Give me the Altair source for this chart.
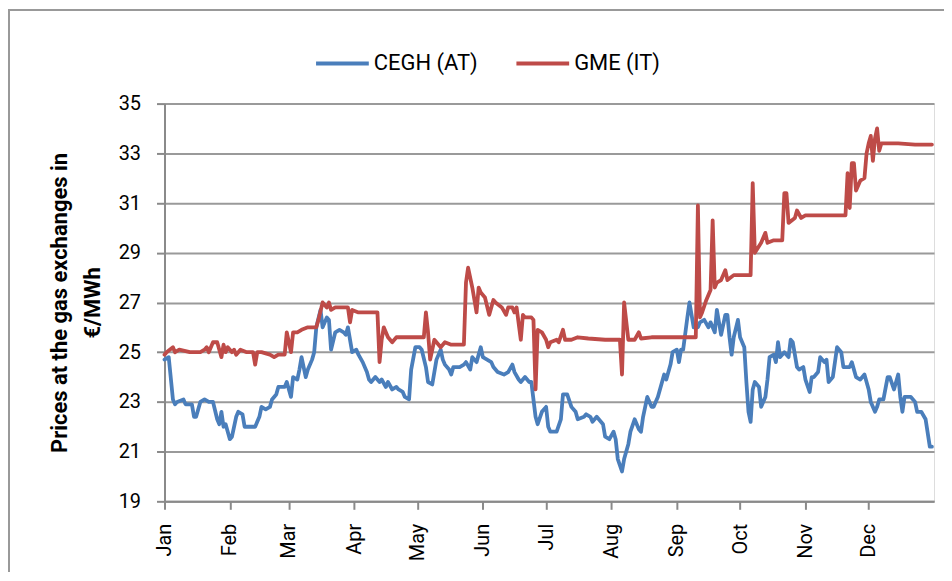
import altair as alt
import pandas as pd

# ---- data (day of year offset in 2013, price in EUR/MWh) ----
cegh_day = [0,2,4,5,6,9,10,13,14,15,17,19,21,23,25,26,27,28,29,31,32,34,35,37,38,40,42,43,45,46,48,50,51,53,54,57,58,60,61,63,64,65,67,68,70,71,72,74,75,77,78,79,81,83,85,86,87,89,91,92,94,96,97,98,100,102,103,105,106,108,110,111,113,114,116,117,119,121,122,124,125,127,129,131,132,133,135,136,137,139,140,142,143,145,146,148,150,151,153,155,156,158,161,163,165,166,168,169,171,173,174,175,176,177,179,181,182,183,186,188,189,191,193,195,196,199,200,202,203,205,207,208,209,211,213,214,215,217,218,220,221,223,225,226,227,229,231,232,234,235,237,238,240,241,243,244,245,246,248,249,251,253,254,256,258,259,261,262,264,266,267,268,269,270,272,273,275,276,277,278,279,280,282,283,285,286,287,289,290,291,292,294,296,297,298,300,301,303,304,306,307,308,310,311,313,314,315,317,319,321,322,325,326,328,330,332,334,335,337,338,339,341,343,344,346,348,349,350,351,354,356,357,359,361,363,364]
cegh_val = [24.7,24.8,23.1,22.9,23.0,23.1,22.9,22.9,22.4,22.4,23.0,23.1,23.0,23.0,22.3,22.1,22.6,22.0,22.1,21.5,21.6,22.4,22.6,22.5,22.0,22.0,22.0,22.0,22.4,22.8,22.7,22.8,23.1,23.3,23.6,23.6,23.8,23.2,24.0,23.9,24.3,24.8,24.0,24.3,24.7,25.0,26.0,26.7,26.0,26.4,26.3,25.1,25.8,25.9,25.8,25.7,26.0,25.0,25.1,24.9,24.6,24.2,23.9,23.8,24.0,23.8,23.9,23.6,23.8,23.5,23.6,23.5,23.4,23.2,23.1,24.3,25.2,25.2,25.1,24.4,23.8,23.7,24.7,25.1,24.7,24.5,24.3,24.1,24.4,24.4,24.4,24.5,24.6,24.3,24.8,24.6,25.2,24.8,24.7,24.6,24.4,24.2,24.1,24.2,24.5,24.2,23.9,23.8,24.0,23.8,23.8,23.1,22.4,22.1,22.6,22.8,22.0,21.8,21.8,22.3,23.3,23.3,22.8,22.6,22.3,22.4,22.5,22.4,22.2,22.4,22.2,22.1,21.6,21.5,21.8,21.5,20.7,20.2,20.7,21.3,21.8,22.3,21.9,21.8,22.4,23.2,22.8,22.8,23.2,23.5,24.1,23.9,24.5,25.0,25.1,24.6,25.1,25.1,26.4,27.0,26.0,26.0,26.2,26.3,26.0,26.2,25.8,26.7,25.7,26.5,26.5,25.6,24.9,25.6,26.3,25.6,25.2,23.8,22.6,22.2,23.5,23.8,23.6,22.8,23.2,23.9,24.8,24.9,24.6,25.4,24.8,25.0,24.8,25.5,25.4,24.4,24.3,24.4,23.9,23.4,24.0,24.0,24.2,24.8,24.6,24.7,23.8,24.0,25.2,25.0,24.4,24.4,24.6,24.0,23.9,24.1,23.5,23.0,22.6,22.8,23.1,23.1,24.0,24.0,23.5,24.1,23.2,22.6,23.2,23.2,23.0,22.6,22.6,22.3,21.2,21.2]

gme_day = [0,1,4,5,7,12,17,19,20,21,23,25,27,28,29,30,32,33,34,36,39,42,43,44,46,50,52,54,57,58,60,61,62,63,65,68,70,72,73,75,77,78,79,81,84,87,88,89,92,96,101,102,103,104,106,108,110,113,116,119,122,123,124,125,126,128,129,131,133,136,139,142,143,144,146,148,149,150,152,154,156,157,160,162,163,165,166,167,169,170,171,174,175,176,177,179,181,182,183,186,187,189,190,193,196,201,209,216,217,218,220,223,225,226,231,237,247,252,253,254,255,257,259,260,261,262,264,266,267,270,273,278,279,280,283,285,286,289,293,294,295,296,299,300,302,304,310,316,323,324,325,326,327,328,330,332,333,334,335,336,337,338,339,340,342,348,356,364]
gme_val = [24.9,25.0,25.2,25.0,25.1,25.0,25.0,25.1,25.2,25.0,25.4,25.4,24.8,25.3,25.0,25.2,25.0,25.1,24.9,25.1,25.0,25.0,24.5,25.0,25.0,24.9,24.8,24.9,24.9,25.8,25.0,25.8,25.8,25.8,25.9,26.0,26.0,26.0,26.3,27.0,26.8,27.0,26.7,26.8,26.8,26.8,26.2,26.7,26.6,26.6,26.6,24.6,25.5,26.0,25.6,25.4,25.6,25.6,25.6,25.6,25.6,25.6,26.6,25.8,24.7,25.5,25.4,25.2,25.4,25.3,25.3,25.3,27.8,28.4,27.6,26.6,27.6,27.4,27.2,26.5,27.1,27.0,26.8,26.5,26.8,26.8,26.6,26.8,25.5,26.5,26.4,26.4,26.3,23.5,25.9,25.8,25.5,25.2,25.4,25.5,25.4,25.9,25.5,25.5,25.6,25.55,25.5,25.5,24.1,27.0,25.5,25.5,25.8,25.55,25.6,25.6,25.6,25.6,30.9,26.4,26.6,27.1,27.5,30.3,27.6,27.8,27.9,28.3,27.9,28.1,28.1,28.1,31.8,29.0,29.4,29.8,29.4,29.5,29.5,31.4,31.4,30.2,30.4,30.7,30.4,30.5,30.5,30.5,30.5,32.2,30.8,32.6,32.6,31.5,31.9,32.0,33.0,33.4,33.7,32.7,33.6,34.0,33.1,33.4,33.4,33.4,33.35,33.35]

series_names = ["CEGH (AT)", "GME (IT)"]
series_colors = ["#4A7EBB", "#BE4B48"]
month_numbers = list(range(1, 13))
y_ticks = [19, 21, 23, 25, 27, 29, 31, 33, 35]

start = pd.Timestamp("2013-01-01")
df = pd.concat([
    pd.DataFrame({"date": start + pd.to_timedelta(cegh_day, unit="D"),
                  "price": cegh_val, "series": series_names[0]}),
    pd.DataFrame({"date": start + pd.to_timedelta(gme_day, unit="D"),
                  "price": gme_val, "series": series_names[1]}),
], ignore_index=True)

FONT = "Roboto"
AXIS_GRAY = "#8a8a8a"

lines = alt.Chart(df).mark_line(strokeWidth=3.8, strokeJoin="round", strokeCap="round").encode(
    x=alt.X("date:T",
            scale=alt.Scale(domain=[alt.DateTime(year=2013, month=1, date=1),
                                    alt.DateTime(year=2014, month=1, date=1)]),
            axis=alt.Axis(values=[alt.DateTime(year=2013, month=m, date=1) for m in month_numbers],
                          format="%b", labelAngle=270, labelAlign="right", labelBaseline="middle",
                          labelFlush=False, labelFont=FONT, labelFontSize=20, labelColor="black",
                          labelPadding=14, tickSize=8, tickColor=AXIS_GRAY, tickWidth=2,
                          domainColor=AXIS_GRAY, domainWidth=2, grid=False, title=None)),
    y=alt.Y("price:Q",
            scale=alt.Scale(domain=[19, 35], nice=False, zero=False),
            axis=alt.Axis(values=y_ticks, format="d",
                          title=["Prices at the gas exchanges in", "€/MWh"],
                          titleFont=FONT, titleFontSize=22, titleFontWeight="bold",
                          titleColor="black", titleLineHeight=33, titlePadding=14,
                          labelFont=FONT, labelFontSize=20, labelColor="black", labelPadding=16,
                          tickSize=8, tickColor=AXIS_GRAY, tickWidth=2,
                          domainColor=AXIS_GRAY, domainWidth=2,
                          grid=True, gridColor="#9a9a9a", gridWidth=2)),
    color=alt.Color("series:N",
                    scale=alt.Scale(domain=series_names, range=series_colors),
                    legend=alt.Legend(orient="none", legendX=150, legendY=-69,
                                      direction="horizontal", title=None,
                                      symbolType="stroke", symbolSize=2800,
                                      symbolStrokeWidth=4, labelFont=FONT,
                                      labelFontSize=22, labelColor="black",
                                      labelOffset=3, columnPadding=30)),
    order=alt.Order("date:T"),
)

border = alt.Chart(pd.DataFrame({"k": [0]})).mark_rect(
    fill=None, stroke="#999999", strokeWidth=2
).encode(
    x=alt.value(-156), x2=alt.value(820),
    y=alt.value(-94), y2=alt.value(500),
)

chart = alt.layer(border, lines).properties(
    width=772, height=399,
    autosize=alt.AutoSizeParams(type="none"),
    padding={"left": 157, "top": 95, "right": 10, "bottom": 70},
).configure_view(strokeWidth=0).configure(background="white")

chart.save("out.html", embed_options={"renderer": "svg", "actions": False})
